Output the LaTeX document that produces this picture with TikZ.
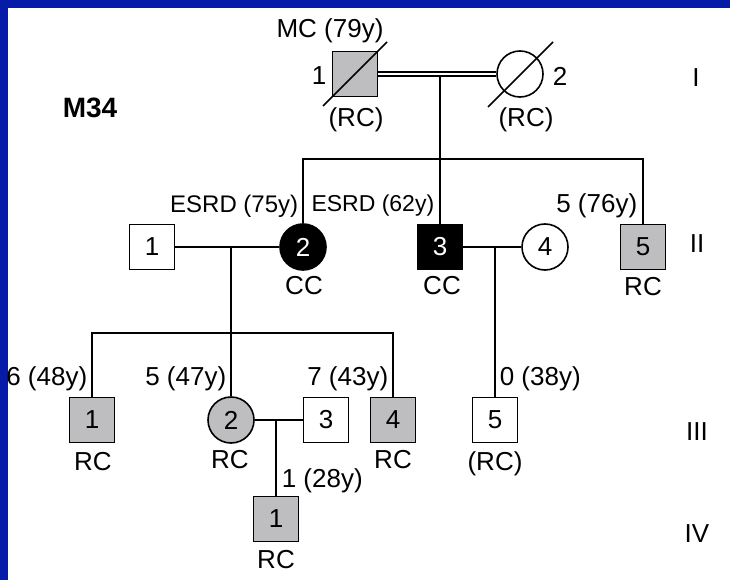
\documentclass[tikz,border=0pt]{standalone}
\usepackage{fontspec}
\setmainfont{Liberation Sans}
\usetikzlibrary{positioning}
\definecolor{slideblue}{RGB}{6,28,168}
\definecolor{pedgrey}{RGB}{190,190,193}

\begin{document}
\begin{tikzpicture}[x=1pt,y=-1pt,line width=1.6pt,
        male/.style={draw,rectangle,minimum size=45pt,inner sep=0pt},
        female/.style={draw,circle,minimum size=46pt,inner sep=0pt},
        lbl/.style={inner sep=1pt},
        every node/.style={font=\fontsize{26}{30}\selectfont}]
  % slide frame
  \fill[slideblue] (0,0) rectangle (730,580);
  \fill[white] (7.5,8) rectangle (730,580);
  \useasboundingbox (0,0) rectangle (730,580);

  \node[lbl,font=\fontsize{28}{32}\selectfont\bfseries] (fam) at (90,108) {M34};

  % generation I
  \node[male,fill=pedgrey] (I1) at (355,74) {};
  \node[female] (I2) at (520,74) {};
  \draw[double,double distance=2.6pt,line width=1.3pt] (I1) -- (I2);
  \draw (I1.center) ++(-32,32) -- ++(64,-64);
  \draw (I2.center) ++(-32,33) -- ++(65,-65);
  \node[lbl] (I1n) at (319,76) {1};
  \node[lbl] (I2n) at (560,76) {2};
  \node[lbl] (I1a) at (330,31) {MC (79y)};
  \node[lbl] (I1b) at (356,120) {(RC)};
  \node[lbl] (I2b) at (526,120) {(RC)};
  \coordinate (mI) at (440,77);
  \coordinate (sII) at (440,159);

  % generation II
  \node[male] (II1) at (152,247) {1};
  \node[female,fill=black,text=white] (II2) at (303,247) {2};
  \node[male,fill=black,text=white] (II3) at (440,247) {3};
  \node[female] (II4) at (545,247) {4};
  \node[male,fill=pedgrey] (II5) at (643,247) {5};
  \draw (mI) -- (II3);
  \draw (II2) |- (sII) -| (II5);
  \draw (II1) -- (II2);
  \draw (II3) -- (II4);
  \node[lbl,anchor=east,font=\fontsize{24}{28}\selectfont] (II2a) at (300,206) {ESRD (75y)};
  \node[lbl,anchor=east,font=\fontsize{23}{28}\selectfont] (II3a) at (436,206) {ESRD (62y)};
  \node[lbl,anchor=east] (II5a) at (639,206) {5 (76y)};
  \node[lbl] (II2b) at (304,286) {CC};
  \node[lbl] (II3b) at (442,286) {CC};
  \node[lbl] (II5b) at (643,287) {RC};
  \coordinate (mII12) at (231,247);
  \coordinate (mII34) at (495,247);
  \coordinate (sIII) at (231,333);

  % generation III
  \node[male,fill=pedgrey] (III1) at (92,420) {1};
  \node[female,fill=pedgrey] (III2) at (231,420) {2};
  \node[male] (III3) at (326,420) {3};
  \node[male,fill=pedgrey] (III4) at (393,420) {4};
  \node[male] (III5) at (495,420) {5};
  \draw (mII12) -- (III2);
  \draw (III1) |- (sIII) -| (III4);
  \draw (mII34) -- (III5);
  \draw (III2) -- (III3);
  \node[lbl,anchor=east] (III1a) at (89,379) {6 (48y)};
  \node[lbl,anchor=east] (III2a) at (228,379) {5 (47y)};
  \node[lbl,anchor=east] (III4a) at (390,379) {7 (43y)};
  \node[lbl,anchor=west] (III5a) at (498,379) {0 (38y)};
  \node[lbl] (III1b) at (93,462) {RC};
  \node[lbl] (III2b) at (230,460) {RC};
  \node[lbl] (III4b) at (393,460) {RC};
  \node[lbl] (III5b) at (495,464) {(RC)};
  \coordinate (mIII23) at (276,420);

  % generation IV
  \node[male,fill=pedgrey] (IV1) at (276,519) {1};
  \draw (mIII23) -- (IV1);
  \node[lbl,anchor=west] (IV1a) at (280,481) {1 (28y)};
  \node[lbl] (IV1b) at (276,560) {RC};

  % generation numerals
  \node[lbl] (gI) at (696,78) {I};
  \node[lbl] (gII) at (697,244) {II};
  \node[lbl] (gIII) at (697,432) {III};
  \node[lbl] (gIV) at (697,534) {IV};
\end{tikzpicture}
\end{document}
